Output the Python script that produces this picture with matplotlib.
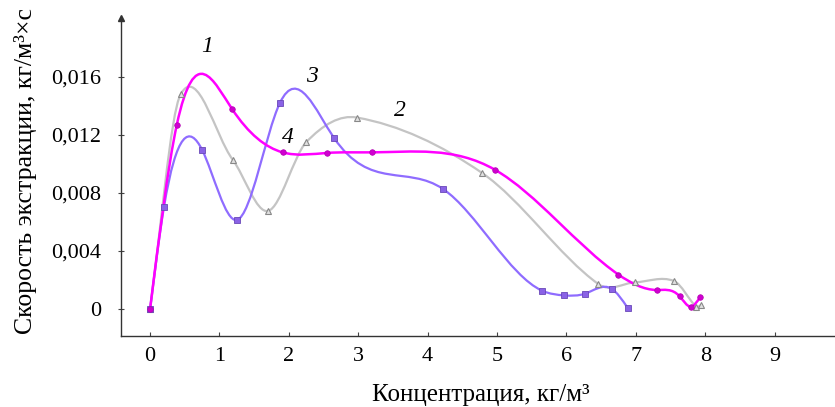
import numpy as np
import matplotlib
matplotlib.use('Agg')
import matplotlib.pyplot as plt
from matplotlib.path import Path
from matplotlib.patches import PathPatch

# данные
x1 = [0, 0.385, 1.18, 1.91, 2.55, 3.2, 4.97, 6.75, 7.3, 7.63, 7.79, 7.93]
y1 = [0, 0.0127, 0.0138, 0.0108, 0.01076, 0.0108, 0.0096, 0.00237, 0.00131, 0.00088, 0.00016, 0.00085]

x2 = [0, 0.44, 1.19, 1.7, 2.25, 2.98, 4.79, 6.46, 6.99, 7.55, 7.87, 7.94]
y2 = [0, 0.0148, 0.0103, 0.00676, 0.0115, 0.0132, 0.00936, 0.00172, 0.00184, 0.00193, 0.00016, 0.00028]

x3 = [0, 0.2, 0.75, 1.25, 1.87, 2.65, 4.22, 5.65, 5.97, 6.27, 6.65, 6.88]
y3 = [0, 0.00703, 0.01097, 0.00614, 0.0142, 0.0118, 0.00828, 0.00126, 0.00094, 0.00106, 0.0014, 0.00009]

xticks = [0, 1, 2, 3, 4, 5, 6, 7, 8, 9]
yticks = [0, 0.004, 0.008, 0.012, 0.016]
ytick_labels = ['0', '0,004', '0,008', '0,012', '0,016']

curve_labels = ['1', '2', '3', '4']
label_pos = [(0.82, 0.0181), (3.6, 0.0137), (2.33, 0.0160), (1.99, 0.0118)]


def smooth_path(x, y, natural=True):
    # гладкая кривая через точки, записанная как кривые Безье
    x = np.asarray(x, float)
    y = np.asarray(y, float)
    n = len(x)
    h = np.diff(x)
    m = np.zeros(n)
    if natural:
        A = np.zeros((n, n))
        b = np.zeros(n)
        A[0, 0] = A[-1, -1] = 1
        for i in range(1, n - 1):
            A[i, i - 1] = h[i - 1]
            A[i, i] = 2 * (h[i - 1] + h[i])
            A[i, i + 1] = h[i]
            b[i] = 6 * ((y[i + 1] - y[i]) / h[i] - (y[i] - y[i - 1]) / h[i - 1])
        M = np.linalg.solve(A, b)
        for i in range(n - 1):
            m[i] = (y[i + 1] - y[i]) / h[i] - h[i] * (2 * M[i] + M[i + 1]) / 6
        m[-1] = (y[-1] - y[-2]) / h[-1] + h[-1] * (M[-2] + 2 * M[-1]) / 6
    else:
        m[1:-1] = (y[2:] - y[:-2]) / (x[2:] - x[:-2])
        m[0] = (y[1] - y[0]) / h[0]
        m[-1] = (y[-1] - y[-2]) / h[-1]
    verts = [(x[0], y[0])]
    codes = [Path.MOVETO]
    for i in range(n - 1):
        verts += [(x[i] + h[i] / 3, y[i] + m[i] * h[i] / 3),
                  (x[i + 1] - h[i] / 3, y[i + 1] - m[i + 1] * h[i] / 3),
                  (x[i + 1], y[i + 1])]
        codes += [Path.CURVE4] * 3
    return Path(verts, codes)


plt.rcParams['font.family'] = ['Liberation Serif', 'DejaVu Serif']

fig = plt.figure(figsize=(8.35, 4.07), dpi=100)
ax = fig.add_axes([0.145, 0.1745, 0.855, 0.7815])

ax.add_patch(PathPatch(smooth_path(x2, y2, natural=False), fill=False, ec='#c4c4c4', lw=1.6))
ax.add_patch(PathPatch(smooth_path(x3, y3), fill=False, ec='#8f6cff', lw=1.6))
ax.add_patch(PathPatch(smooth_path(x1, y1), fill=False, ec='#ff00ff', lw=1.8))

ax.plot(x2, y2, ls='none', marker='^', ms=4, mfc='#e0e0e0', mec='#888888', mew=0.8)
ax.plot(x3, y3, ls='none', marker='s', ms=4.5, mfc='#8a62e6', mec='#6a48b8', mew=0.6)
ax.plot(x1, y1, ls='none', marker='o', ms=4, mfc='#d000d0', mec='#b000b0', mew=0.5)

for t, (px, py) in zip(curve_labels, label_pos):
    ax.text(px, py, t, fontsize=17, style='italic', ha='center', va='center')

ax.set_xlim(-0.418, 9.87)
ax.set_ylim(-0.00186, 0.02007)
ax.set_xticks(xticks)
ax.set_yticks(yticks)
ax.set_yticklabels(ytick_labels)
ax.tick_params(axis='x', direction='in', length=3, labelsize=16, pad=8, color='#444444')
ax.tick_params(axis='y', direction='inout', length=5, labelsize=16, pad=12, color='#444444')

for s in ['top', 'right']:
    ax.spines[s].set_visible(False)
for s in ['left', 'bottom']:
    ax.spines[s].set_color('#333333')
    ax.spines[s].set_linewidth(1.0)
ax.plot(0, 1, marker='^', ms=4, color='#333333', transform=ax.transAxes, clip_on=False)

fig.text(26 / 835, 1 - 171 / 407, 'Скорость экстракции, кг/м³×с', rotation=90,
         ha='center', va='center', fontsize=18.5)
fig.text(481 / 835, 1 - 401 / 407, 'Концентрация, кг/м³', ha='center', va='baseline', fontsize=18)

fig.savefig('out.png', dpi=100)
